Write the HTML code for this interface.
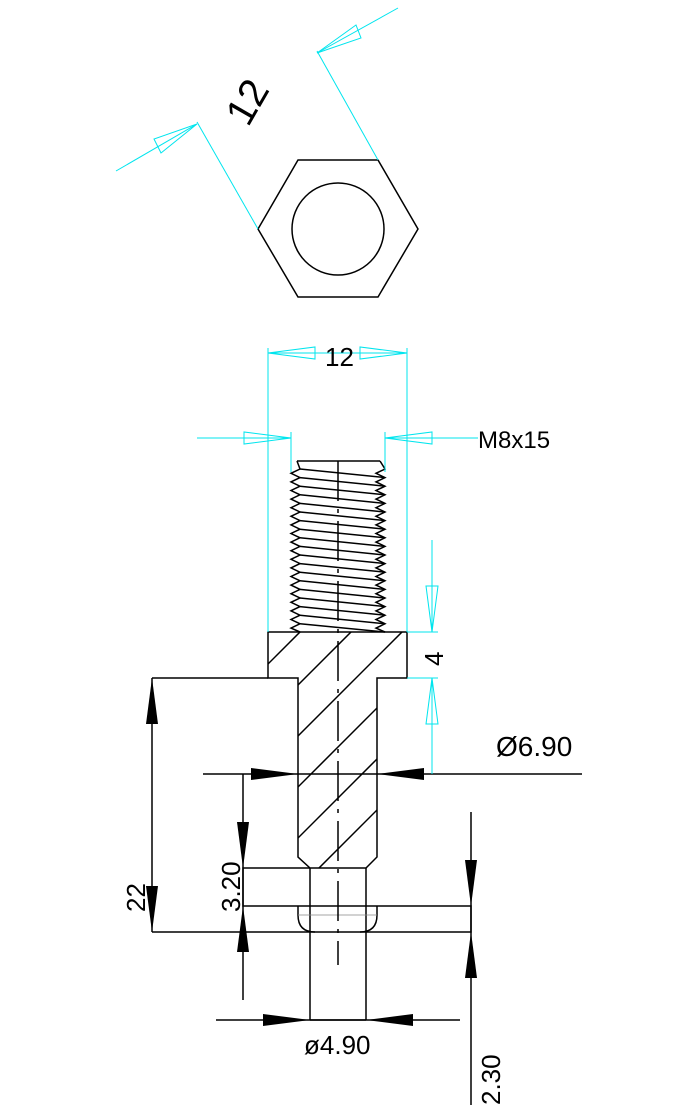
<!DOCTYPE html>
<html><head><meta charset="utf-8"><style>html,body{margin:0;padding:0;background:#fff}svg{display:block}</style></head>
<body>
<svg width="676" height="1120" viewBox="0 0 676 1120" xmlns="http://www.w3.org/2000/svg" font-family="Liberation Sans, sans-serif">
<defs>
<clipPath id="sec"><polygon points="268,632 407,632 407,678 377,678 377,857 366,868 310,868 298,857 298,678 268,678"/></clipPath>
</defs>
<g fill="none" stroke="#000" stroke-width="1.5">
<polygon points="298,160 378,160 418,229 378,297 298,297 258,229"/>
<circle cx="338" cy="229" r="46"/>
<polygon points="268,632 407,632 407,678 377,678 377,857 366,868 310,868 298,857 298,678 268,678"/>
<line x1="152" y1="678" x2="268" y2="678"/>
<g clip-path="url(#sec)">
<line x1="532" y1="400" x2="32" y2="900"/>
<line x1="583" y1="400" x2="83" y2="900"/>
<line x1="634" y1="400" x2="134" y2="900"/>
<line x1="685" y1="400" x2="185" y2="900"/>
<line x1="736" y1="400" x2="236" y2="900"/>
<line x1="787" y1="400" x2="287" y2="900"/>
<line x1="838" y1="400" x2="338" y2="900"/>
</g>
<polyline points="310,868 243,868 243,906 471,906 471,932 152,932"/>
<line x1="310" y1="868" x2="310" y2="1020"/>
<line x1="366" y1="868" x2="366" y2="1020"/>
<line x1="310" y1="1020" x2="366" y2="1020"/>
<path d="M298,906 V915 Q298,932 315,932 M377,906 V915 Q377,932 360,932"/>
<line x1="298" y1="915" x2="377" y2="915" stroke="#888" stroke-width="0.8"/>
<line x1="338" y1="461" x2="338" y2="965" stroke-dasharray="40,8,4,8"/>
<!-- thread -->
<path d="M297,461 H380"/>
<polyline points="297,461 300,469 291,473.3 300,477.6 291,481.9 300,486.2 291,490.5 300,494.8 291,499.1 300,503.4 291,507.7 300,512 291,516.3 300,520.6 291,524.9 300,529.2 291,533.5 300,537.8 291,542.1 300,546.4 291,550.7 300,555 291,559.3 300,563.6 291,567.9 300,572.2 291,576.5 300,580.8 291,585.1 300,589.4 291,593.7 300,598 291,602.3 300,606.6 291,610.9 300,615.2 291,619.5 300,623.8 291,628.1 300,632"/>
<polyline points="380,461 385,469 376,473.3 385,477.6 376,481.9 385,486.2 376,490.5 385,494.8 376,499.1 385,503.4 376,507.7 385,512 376,516.3 385,520.6 376,524.9 385,529.2 376,533.5 385,537.8 376,542.1 385,546.4 376,550.7 385,555 376,559.3 385,563.6 376,567.9 385,572.2 376,576.5 385,580.8 376,585.1 385,589.4 376,593.7 385,598 376,602.3 385,606.6 376,610.9 385,615.2 376,619.5 385,623.8 376,628.1 385,632"/>
<path d="M300,469 L385,477.6 M300,477.6 L385,486.2 M300,486.2 L385,494.8 M300,494.8 L385,503.4 M300,503.4 L385,512 M300,512 L385,520.6 M300,520.6 L385,529.2 M300,529.2 L385,537.8 M300,537.8 L385,546.4 M300,546.4 L385,555 M300,555 L385,563.6 M300,563.6 L385,572.2 M300,572.2 L385,580.8 M300,580.8 L385,589.4 M300,589.4 L385,598 M300,598 L385,606.6 M300,606.6 L385,615.2 M300,615.2 L385,623.8 M300,623.8 L385,632"/>
<line x1="203" y1="774" x2="582" y2="774"/>
<line x1="243" y1="774" x2="243" y2="1000"/>
<line x1="152" y1="678" x2="152" y2="932"/>
<line x1="471" y1="812" x2="471" y2="1105"/>
<line x1="216" y1="1020" x2="460" y2="1020"/>
</g>
<g fill="#000">
<polygon points="298,774 251,768 251,780"/>
<polygon points="377,774 424,768 424,780"/>
<polygon points="243,868 237,822 249,822"/>
<polygon points="243,906 237,952 249,952"/>
<polygon points="152,678 146,724 158,724"/>
<polygon points="152,932 146,886 158,886"/>
<polygon points="471,906 465,860 477,860"/>
<polygon points="471,932 465,978 477,978"/>
<polygon points="310,1020 263,1014 263,1026"/>
<polygon points="366,1020 413,1014 413,1026"/>
</g>
<g fill="none" stroke="#00e5ee" stroke-width="1">
<line x1="197" y1="122" x2="258" y2="229"/>
<line x1="317" y1="51" x2="378" y2="160"/>
<line x1="116" y1="171" x2="197" y2="124"/>
<polygon points="197,124 154,139 161,153"/>
<line x1="398" y1="8" x2="317" y2="53"/>
<polygon points="317,53 356,25 361,38"/>
<line x1="268" y1="348" x2="268" y2="632"/>
<line x1="407" y1="348" x2="407" y2="632"/>
<line x1="268" y1="353" x2="407" y2="353"/>
<polygon points="268,353 315,347 315,359"/>
<polygon points="407,353 360,347 360,359"/>
<line x1="291" y1="432" x2="291" y2="472"/>
<line x1="385" y1="432" x2="385" y2="472"/>
<line x1="197" y1="438" x2="291" y2="438"/>
<polygon points="291,438 244,432 244,444"/>
<line x1="385" y1="438" x2="478" y2="438"/>
<polygon points="385,438 432,432 432,444"/>
<line x1="432" y1="540" x2="432" y2="632"/>
<polygon points="432,632 426,586 438,586"/>
<line x1="432" y1="678" x2="432" y2="774"/>
<polygon points="432,678 426,724 438,724"/>
<line x1="407" y1="632" x2="438" y2="632"/>
<line x1="407" y1="678" x2="438" y2="678"/>
</g>
<g fill="#000">
<text transform="translate(248,128) rotate(-60)" font-size="40">12</text>
<text x="325" y="366" font-size="26">12</text>
<text x="478" y="448" font-size="24">M8x15</text>
<text transform="translate(443,666) rotate(-90)" font-size="26">4</text>
<text x="496" y="756" font-size="28">Ø6.90</text>
<text transform="translate(240,912) rotate(-90)" font-size="26">3.20</text>
<text transform="translate(145,912) rotate(-90)" font-size="26">22</text>
<text x="304" y="1054" font-size="26">ø4.90</text>
<text transform="translate(500,1105) rotate(-90)" font-size="26">2.30</text>
</g>
</svg>
</body></html>
